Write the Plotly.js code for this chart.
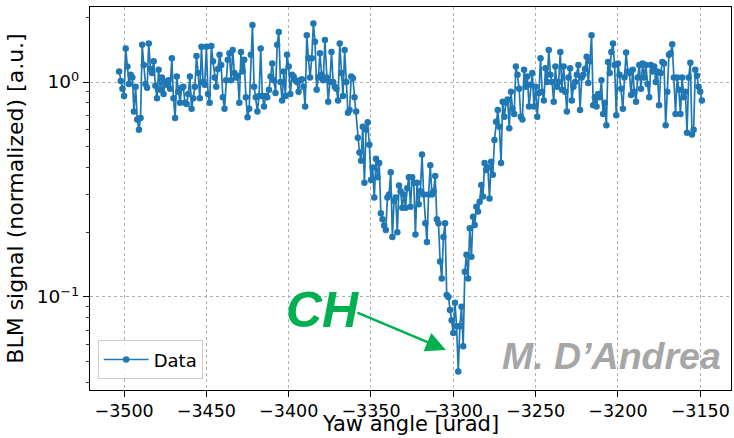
<!DOCTYPE html>
<html>
<head>
<meta charset="utf-8">
<script src="https://cdn.plot.ly/plotly-3.0.1.min.js"></script>
<style>
html,body{margin:0;padding:0;background:#fff;}
#chart{width:734px;height:438px;}
</style>
</head>
<body>
<div id="chart"></div>
<script>
// Yaw scan: first angle and step [urad]
const yawStart = -3503;
const yawStep = 1;

// BLM signal (normalized), one value per yaw step
const blmSignal = [
  // -3503 .. -3444
  1.12, 1.01, 0.93, 0.86, 1.43, 1.18, 0.98, 1.08, 1.05, 0.73,
  0.95, 0.67, 0.60, 0.68, 1.49, 1.20, 0.98, 0.94, 1.51, 1.15,
  1.10, 1.25, 0.96, 0.84, 1.14, 0.92, 1.05, 0.88, 1.00, 0.97,
  1.02, 0.93, 1.29, 0.84, 0.68, 1.06, 0.90, 0.80, 0.94, 0.95,
  0.80, 0.79, 0.88, 1.06, 0.75, 0.84, 0.95, 1.32, 1.10, 0.84,
  1.46, 1.00, 0.97, 1.46, 0.88, 0.80, 1.47, 1.25, 1.05, 0.95,
  // -3443 .. -3385
  1.15, 1.34, 1.20, 0.85, 0.75, 1.02, 1.27, 1.36, 1.02, 1.41,
  1.10, 1.05, 1.07, 0.80, 1.38, 1.12, 1.27, 0.85, 0.685, 0.75,
  1.34, 1.84, 0.95, 0.85, 0.73, 0.86, 1.43, 0.86, 0.77, 0.86,
  0.85, 0.92, 1.06, 1.22, 1.02, 0.89, 1.49, 1.71, 1.00, 0.82,
  1.12, 0.86, 1.34, 1.18, 0.88, 1.08, 1.06, 1.02, 1.00, 0.90,
  1.02, 1.03, 0.95, 0.77, 1.65, 1.29, 1.05, 1.29,
  1.87,
  // -3384 .. -3357
  1.54, 0.92, 1.05, 1.36, 1.08, 1.02, 1.57, 1.05, 0.81, 1.00,
  1.38, 1.00, 0.95, 0.93, 0.82, 1.51, 1.10, 0.86, 1.41, 1.00,
  0.72, 0.74, 1.06, 1.04, 0.85, 0.73, 0.55, 0.47,
  // -3356 .. -3327
  0.43, 0.62, 0.34, 0.60, 0.65, 0.51, 0.35, 0.40, 0.29, 0.44,
  0.36, 0.42, 0.245, 0.23, 0.215, 0.205, 0.29, 0.30, 0.38, 0.19,
  0.28, 0.29, 0.20, 0.33, 0.31, 0.26, 0.30, 0.26, 0.32, 0.36,
  // -3326 .. -3257
  0.263, 0.36, 0.34, 0.195, 0.34, 0.27, 0.31, 0.46, 0.30, 0.22,
  0.18, 0.30, 0.41, 0.30, 0.31, 0.365, 0.23, 0.22, 0.146, 0.122,
  0.19, 0.22, 0.102, 0.10, 0.087, 0.078, 0.068, 0.094, 0.073, 0.045,
  0.073, 0.09, 0.059, 0.131, 0.157, 0.122, 0.209, 0.154, 0.236, 0.216,
  0.263, 0.25, 0.277, 0.332, 0.293, 0.42, 0.39, 0.40, 0.287, 0.426,
  0.37, 0.537, 0.654, 0.74, 0.62, 0.42, 0.81, 0.69, 0.80, 0.83,
  0.61, 0.90, 0.75, 0.71, 1.18, 1.08, 0.93, 0.69, 0.67, 1.14,
  // -3256 .. -3207
  0.95, 1.06, 0.77, 0.97, 1.10, 0.77, 0.95, 0.69, 0.89, 1.29,
  0.90, 0.82, 1.16, 1.00, 1.41, 1.08, 1.00, 0.81, 1.18, 0.95,
  1.00, 1.38, 0.92, 1.18, 0.90, 0.73, 1.05, 1.16, 0.82, 0.95,
  1.00, 1.08, 1.20, 0.74, 1.05, 1.08, 1.15, 1.31, 0.99, 1.25,
  1.65, 0.78, 0.85, 0.77, 0.88, 0.85, 1.02, 0.71, 0.80, 0.63,
  // -3206 .. -3149
  1.24, 1.10, 1.38, 1.51, 1.20, 0.70, 1.22, 1.08, 0.93, 0.75,
  1.05, 1.37, 1.12, 1.10, 0.87, 1.14, 0.90, 0.81, 1.05, 1.20,
  0.93, 1.22, 1.05, 1.20, 0.98, 0.85, 1.20, 1.12, 1.18, 1.00,
  1.12, 0.78, 1.10, 1.24, 1.22, 0.63, 0.90, 1.34, 1.36, 1.50,
  1.05, 0.71, 1.05, 0.92, 0.71, 1.05, 0.85, 0.90, 0.58, 1.05,
  1.23, 0.57, 0.60, 1.14, 1.07, 0.95, 0.90, 0.82
];

const yawAngle = blmSignal.map((_, i) => yawStart + i * yawStep);

const xTicks = [-3500, -3450, -3400, -3350, -3300, -3250, -3200, -3150];
const xTickText = ['−3500', '−3450', '−3400', '−3350', '−3300', '−3250', '−3200', '−3150'];
const yTicks = [0.1, 1];
const yTickText = ['10<sup>−1</sup>', '10<sup>0</sup>'];
const yMinorTicks = [0.04, 0.05, 0.06, 0.07, 0.08, 0.09, 0.2, 0.3, 0.4, 0.5, 0.6, 0.7, 0.8, 0.9, 2];

// annotation anchor (CH arrow tip)
const chTip = {x: -3304.5, y: 0.0567};

const font = 'DejaVu Sans, sans-serif';
const blue = '#1f77b4';

const trace = {
  x: yawAngle,
  y: blmSignal,
  type: 'scatter',
  mode: 'lines+markers',
  name: 'Data',
  line: {color: blue, width: 1.7},
  marker: {color: blue, size: 6.5}
};

const layout = {
  width: 734,
  height: 438,
  margin: {l: 90, r: 3, t: 7, b: 48},
  paper_bgcolor: '#ffffff',
  plot_bgcolor: '#ffffff',
  font: {family: font, color: '#000', size: 18},
  showlegend: true,
  legend: {
    x: 0.012, y: 0.028, xanchor: 'left', yanchor: 'bottom',
    bgcolor: 'rgba(255,255,255,0.8)',
    bordercolor: '#cccccc', borderwidth: 1,
    font: {family: font, size: 18, color: '#000'},
    itemwidth: 45
  },
  xaxis: {
    range: [-3520.7, -3131.3],
    tickvals: xTicks,
    ticktext: xTickText,
    ticks: 'outside', ticklen: 6, tickwidth: 1, tickcolor: '#000',
    showline: true, linecolor: '#000', linewidth: 1, mirror: true,
    showgrid: true, gridcolor: '#b0b0b0', griddash: 'dot', gridwidth: 1,
    zeroline: false,
    ticklabelstandoff: -1,
    tickfont: {family: font, size: 17.5, color: '#000'}
  },
  yaxis: {
    type: 'log',
    range: [-1.433, 0.349],
    tickvals: yTicks,
    ticktext: yTickText,
    ticks: 'outside', ticklen: 6, tickwidth: 1, tickcolor: '#000',
    minor: {tickvals: yMinorTicks, ticks: 'outside', ticklen: 3.5, tickwidth: 0.8, tickcolor: '#000', showgrid: false},
    showline: true, linecolor: '#000', linewidth: 1, mirror: true,
    showgrid: true, gridcolor: '#b0b0b0', griddash: 'dot', gridwidth: 1,
    zeroline: false,
    tickfont: {family: font, size: 18.5, color: '#000'},
    title: {text: 'BLM signal (normalized) [a.u.]', font: {family: font, size: 22, color: '#000'}, standoff: 6}
  },
  annotations: [
    {
      x: 0.5, y: -0.1253, xref: 'paper', yref: 'paper',
      text: 'Yaw angle [urad]', showarrow: false,
      xanchor: 'center', yanchor: 'bottom',
      font: {family: font, size: 21, color: '#000'}
    },
    {
      x: chTip.x, y: Math.log10(chTip.y), xref: 'x', yref: 'y',
      ax: -90, ay: -38, axref: 'pixel', ayref: 'pixel',
      text: '', showarrow: true,
      arrowcolor: '#00b050', arrowwidth: 2.5, arrowhead: 2, arrowsize: 1.6, standoff: 0
    },
    {
      x: -3356, y: Math.log10(0.0865), xref: 'x', yref: 'y',
      text: '<b><i>CH</i></b>', showarrow: false,
      xanchor: 'right', yanchor: 'middle',
      font: {family: 'Liberation Sans, Arial, sans-serif', size: 50, color: '#00b050'}
    },
    {
      x: 0.988, y: 0.09, xref: 'paper', yref: 'paper',
      text: '<b><i>M. D’Andrea</i></b>', showarrow: false,
      xanchor: 'right', yanchor: 'middle',
      font: {family: 'Liberation Sans, Arial, sans-serif', size: 37.5, color: '#a6a6a6'}
    }
  ]
};

Plotly.newPlot('chart', [trace], layout, {displayModeBar: false, staticPlot: true});
</script>
</body>
</html>
